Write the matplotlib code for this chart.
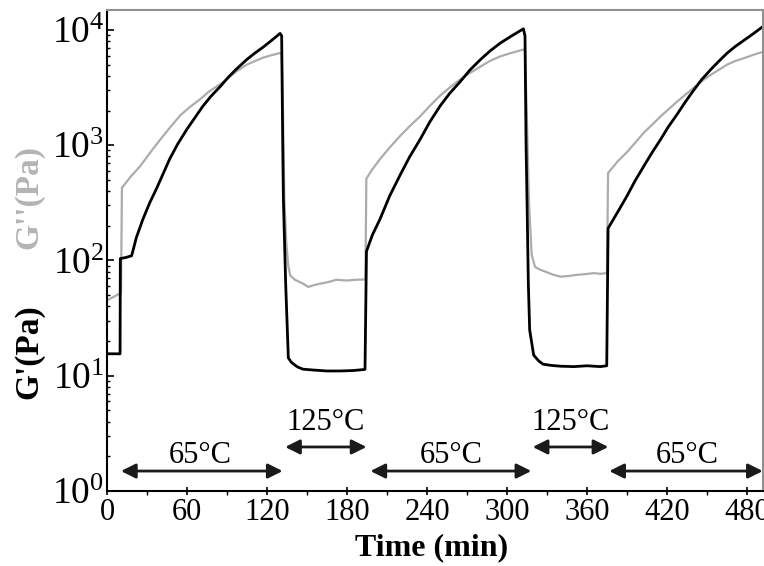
import numpy as np
import matplotlib
matplotlib.use("Agg")
import matplotlib.pyplot as plt
from matplotlib.ticker import LogLocator, MultipleLocator, NullFormatter

plt.rcParams["font.family"] = "serif"
plt.rcParams["font.serif"] = ["Liberation Serif", "DejaVu Serif"]
plt.rcParams["mathtext.fontset"] = "custom"
plt.rcParams["mathtext.rm"] = "Liberation Serif"

# G' (storage modulus), black curve: time (min) and value (Pa)
t_gp = [0, 9.8, 10.0, 14, 18.5, 22, 27, 32, 37, 42, 47, 53, 60, 66, 72, 78, 85, 91, 97,
        105, 111, 117, 123, 129.8, 131, 131.8, 132.3, 134, 136, 138, 140, 143, 147, 155,
        165, 175, 185, 193.5, 194.6,
        199, 204.8, 212, 219.8, 227, 234.8, 242, 249.8, 257, 264.8, 272, 279.8, 287, 294.8,
        303, 312.3, 313.5, 314.3, 315, 316, 317, 320, 323.6, 327, 333, 340, 350, 360, 370,
        374.8, 375.8,
        383, 390, 396, 402.7, 409, 415.2, 421, 427.7, 434, 440.2, 446, 452.7, 459, 465.2,
        471, 477.7, 485, 492]
g_prime = [15.5, 15.5, 104, 106, 110, 158, 229, 316, 417, 562, 759, 1023, 1380, 1738, 2188,
           2660, 3236, 3890, 4571, 5560, 6310, 7080, 8040, 9330, 8900, 1000, 339, 63, 14.3,
           13.2, 12.6, 11.9, 11.4, 11.2, 11.0, 11.0, 11.1, 11.35, 120,
           166, 229, 363, 550, 794, 1122, 1585, 2188, 2818, 3548, 4467, 5495, 6530, 7670,
           8810, 10230, 8900, 1000, 339, 63, 25, 15.1, 13.5, 12.6, 12.3, 12.1, 12.0, 12.2,
           12.0, 12.2, 190,
           263, 363, 490, 661, 871, 1122, 1445, 1862, 2399, 3020, 3715, 4520, 5370, 6310,
           7160, 8130, 9330, 10720]

# G'' (loss modulus), gray curve
t_gpp = [0, 3, 6, 10.5, 11.2, 18, 25, 32, 40, 47, 55, 62, 70, 77, 85, 91, 97, 105, 111,
         117, 123, 129.8, 131, 132, 133, 134.5, 136, 137.5, 141, 147, 151, 155, 160, 166,
         172, 180, 186, 193.8, 194.5,
         199, 204.8, 212, 219.8, 227, 234.8, 242, 249.8, 257, 264.8, 272, 279.8, 287, 294.8,
         303, 312.3, 313.5, 315, 316.5, 318.5, 321, 325, 330, 335, 340, 346, 352, 358, 365,
         370, 375, 375.8,
         383, 390, 396, 402.7, 409, 415.2, 421, 427.7, 434, 440.2, 446, 452.7, 459, 465.2,
         471, 477.7, 485, 492]
g_dprime = [45, 47, 49, 52.5, 427, 537, 661, 851, 1122, 1413, 1820, 2138, 2512, 2951, 3388,
            3846, 4365, 5012, 5370, 5750, 6026, 6310, 6170, 1995, 339, 141, 89, 74, 68, 63,
            59, 61, 63, 65, 68, 67, 68, 68.4, 513,
            617, 759, 955, 1202, 1462, 1778, 2188, 2692, 3162, 3715, 4217, 4786, 5370, 5890,
            6310, 6760, 6610, 1585, 316, 112, 88, 83, 79, 75, 72.4, 73.3, 75, 76, 77.6,
            76.7, 77.6, 575,
            724, 871, 1047, 1288, 1514, 1778, 2042, 2399, 2754, 3162, 3590, 4074, 4520, 5012,
            5370, 5690, 6100, 6460]

# temperature steps
step_labels = ["65°C", "125°C", "65°C", "125°C", "65°C"]
step_start = [10.5, 133.6, 197.6, 319.3, 376.7]
step_end = [131.7, 194.6, 318.2, 376.0, 491.8]
step_mid = [69.6, 163.9, 257.9, 347.4, 435.2]
arrow_y = [1.49, 2.41, 1.49, 2.41, 1.49]
label_y = [2.05, 3.95, 2.05, 3.95, 2.05]

fig = plt.figure(figsize=(7.64, 5.66), dpi=100)
ax = fig.add_axes([107 / 764, 1 - 491 / 566, 656 / 764, 481 / 566])

ax.plot(t_gpp, g_dprime, color="#acacac", lw=1.6)
ax.plot(t_gp, g_prime, color="black", lw=2.0)

for lab, a, b, m, ya, yl in zip(step_labels, step_start, step_end, step_mid, arrow_y, label_y):
    ax.annotate("", xy=(b, ya), xytext=(a, ya),
                arrowprops=dict(arrowstyle="<|-|>", color="#1a1a1a", lw=2,
                                mutation_scale=22, shrinkA=0, shrinkB=0))
    ax.text(m, yl, lab, ha="center", va="center", fontsize=22)

ax.set_yscale("log")
ax.set_xlim(0, 492)
ax.set_ylim(1, 14900)
ax.xaxis.set_major_locator(MultipleLocator(60))
ax.xaxis.set_minor_locator(MultipleLocator(30))
ax.yaxis.set_major_locator(LogLocator(base=10, numticks=10))
ax.yaxis.set_minor_locator(LogLocator(base=10, subs=np.arange(2, 10), numticks=10))
ax.yaxis.set_minor_formatter(NullFormatter())
ax.tick_params(axis="x", which="major", direction="inout", length=6, width=1.2,
               labelsize=22, pad=2)
ax.tick_params(axis="x", which="minor", direction="out", length=3, width=1)
ax.tick_params(axis="y", which="major", direction="in", length=5, width=1.2,
               labelsize=27, pad=2)
ax.tick_params(axis="y", which="minor", direction="in", length=2.5, width=1)

for side in ["left", "bottom"]:
    ax.spines[side].set_linewidth(1.5)
    ax.spines[side].set_color("black")
for side in ["top", "right"]:
    ax.spines[side].set_linewidth(1.5)
    ax.spines[side].set_color("#909090")

fig.text(432 / 764, 1 - 548 / 566, "Time (min)", ha="center", va="center",
         fontsize=23, fontweight="bold")
fig.text(29 / 764, 1 - 197 / 566, "G''(Pa)", ha="center", va="center", rotation=90,
         fontsize=24, fontweight="bold", color="#b4b4b4")
fig.text(29 / 764, 1 - 352 / 566, "G'(Pa)", ha="center", va="center", rotation=90,
         fontsize=24, fontweight="bold", color="black")

fig.savefig("out.png", dpi=100)
